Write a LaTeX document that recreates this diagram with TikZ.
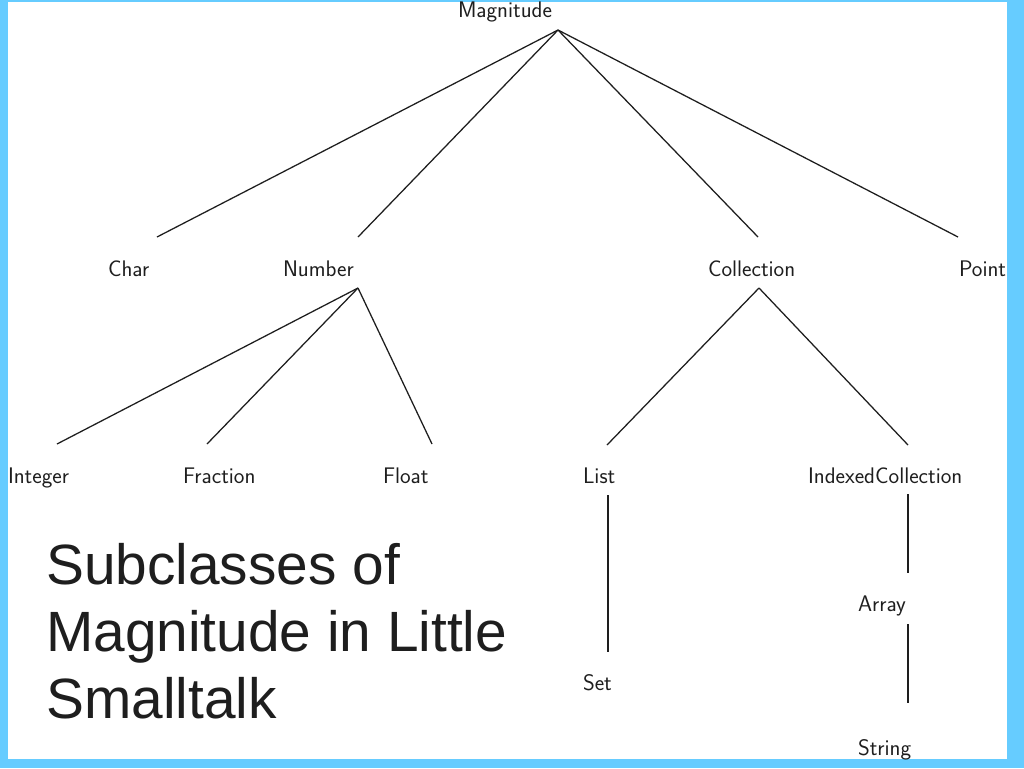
\documentclass[tikz,border=0pt]{standalone}
\usepackage{fontspec}
\newfontfamily\titlefont{Liberation Sans}
\definecolor{frameblue}{RGB}{102,204,255}
\definecolor{inkgray}{RGB}{30,30,30}
\begin{document}
\begin{tikzpicture}[x=0.75pt,y=-0.75pt,
  lbl/.style={anchor=base west,inner sep=0pt,outer sep=0pt,text=inkgray,font=\sffamily\fontsize{16.9}{20}\selectfont},
  edge/.style={draw=inkgray,line width=0.95pt},
  title/.style={anchor=base west,inner sep=0pt,align=left,text=inkgray,font=\titlefont\fontsize{42.6}{50}\selectfont}]
% frame
\fill[frameblue] (0,0) rectangle (1024,768);
\fill[white] (8,2) rectangle (1007,759);
\useasboundingbox (0,0) rectangle (1024,768);
% labels
\node[lbl] (mag) at (458,17) {Magnitude};
\node[lbl] (char) at (108,276) {Char};
\node[lbl] (num) at (283,276) {Number};
\node[lbl] (coll) at (708,276) {Collection};
\node[lbl] (point) at (959,276) {Point};
\node[lbl] (int) at (8,483) {Integer};
\node[lbl] (frac) at (183,483) {Fraction};
\node[lbl] (float) at (383,483) {Float};
\node[lbl] (list) at (583,483) {List};
\node[lbl] (icoll) at (808,483) {IndexedCollection};
\node[lbl] (array) at (858,611) {Array};
\node[lbl] (set) at (583,690) {Set};
\node[lbl] (string) at (858,755) {String};
% connector ends
\coordinate (magB) at (558,30);
\coordinate (charT) at (157,237);
\coordinate (numT) at (358,237);
\coordinate (collT) at (758,237);
\coordinate (pointT) at (958,237);
\coordinate (numB) at (358,288);
\coordinate (intT) at (57,444);
\coordinate (fracT) at (207,444);
\coordinate (floatT) at (432,444);
\coordinate (collB) at (759,288);
\coordinate (listT) at (607,445);
\coordinate (icollT) at (908,445);
\coordinate (listB) at (608,495);
\coordinate (setT) at (608,652);
\coordinate (icollB) at (908,494);
\coordinate (arrayT) at (908,573);
\coordinate (arrayB) at (908,624);
\coordinate (stringT) at (908,703);
% connectors
\draw[edge] (magB) -- (charT);
\draw[edge] (magB) -- (numT);
\draw[edge] (magB) -- (collT);
\draw[edge] (magB) -- (pointT);
\draw[edge] (numB) -- (intT);
\draw[edge] (numB) -- (fracT);
\draw[edge] (numB) -- (floatT);
\draw[edge] (collB) -- (listT);
\draw[edge] (collB) -- (icollT);
\draw[edge] (listB) -- (setT);
\draw[edge] (icollB) -- (arrayT);
\draw[edge] (arrayB) -- (stringT);
% title (base anchor = baseline of last line)
\node[title] (caption) at (46,718) {Subclasses of\\Magnitude in Little\\Smalltalk};
\end{tikzpicture}
\end{document}
